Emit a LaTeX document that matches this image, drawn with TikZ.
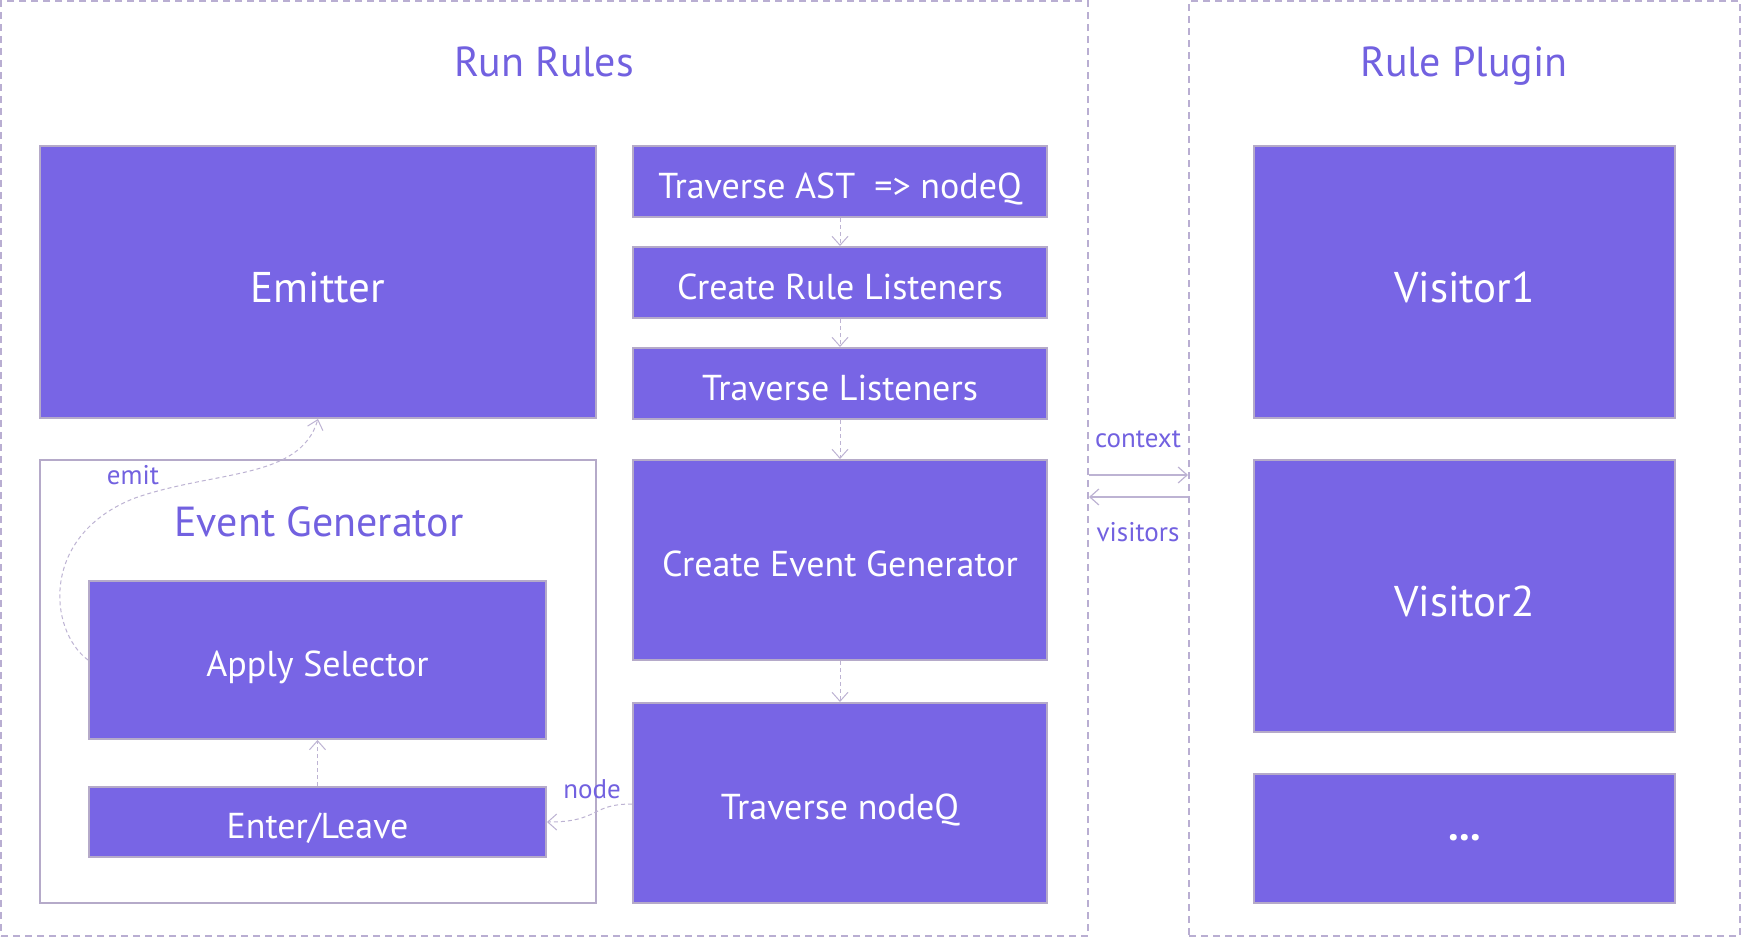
\documentclass[tikz,border=0pt]{standalone}
\usepackage{fontspec}
\setmainfont{PT Sans}
\usetikzlibrary{arrows.meta,calc}
\definecolor{boxfill}{HTML}{7865E5}
\definecolor{boxline}{HTML}{B5AAC9}
\definecolor{dashline}{HTML}{B9AED2}
\definecolor{titlec}{HTML}{7261E0}
\definecolor{connc}{HTML}{BDB3D3}
\tikzset{
  box/.style={draw=boxline, line width=2pt, fill=boxfill, text=white, inner sep=0pt, text height=33pt, text depth=0pt, font=\fontsize{36}{42}\selectfont},
  bigbox/.style={box, text height=40pt, font=\fontsize{43}{50}\selectfont},
  group/.style={draw=dashline, line width=2pt, dash pattern=on 7pt off 5pt, inner sep=0pt},
  title/.style={text=titlec, text depth=0pt, font=\fontsize{42}{50}\selectfont},
  lbl/.style={text=titlec, font=\fontsize{27}{32}\selectfont},
  conn/.style={draw=connc, line width=1pt, dash pattern=on 4pt off 3pt, -{Straight Barb[length=9pt,width=16pt,line width=1pt]}},
  solidconn/.style={draw=connc, line width=1.4pt, -{Straight Barb[length=9pt,width=16pt,line width=1.2pt]}},
}
\begin{document}
\begin{tikzpicture}[x=1pt,y=-1pt]
\useasboundingbox (0,0) rectangle (1742,937);
% groups
\node[group, minimum width=1087pt, minimum height=935pt] (runrules) at (544.5,468.5) {};
\node[group, minimum width=551pt, minimum height=935pt] (plugin) at (1464.5,468.5) {};
\node[title] (rrtitle) at (544,62) {Run Rules};
\node[title] (rptitle) at (1464,62) {Rule Plugin};
% left column
\node[bigbox, minimum width=556pt, minimum height=272pt] (emitter) at (318,282) {Emitter};
\node[draw=boxline, line width=2pt, fill=white, minimum width=556pt, minimum height=443pt] (eg) at (318,681.5) {};
\node[title] (egtitle) at (319,522) {Event Generator};
\node[box, minimum width=457pt, minimum height=158pt] (apply) at (317.5,660) {Apply Selector};
\node[box, minimum width=457pt, minimum height=70pt] (enter) at (317.5,822) {Enter/Leave};
% middle column
\node[box, minimum width=414pt, minimum height=71pt] (ast) at (840,181.5) {Traverse AST\ \ => nodeQ};
\node[box, minimum width=414pt, minimum height=71pt] (crl) at (840,282.5) {Create Rule Listeners};
\node[box, minimum width=414pt, minimum height=71pt] (tl) at (840,383.5) {Traverse Listeners};
\node[box, minimum width=414pt, minimum height=200pt] (ceg) at (840,560) {Create Event Generator};
\node[box, minimum width=414pt, minimum height=200pt] (tnq) at (840,803) {Traverse nodeQ};
% right column
\node[bigbox, minimum width=421pt, minimum height=272pt] (v1) at (1464.5,282) {Visitor1};
\node[bigbox, minimum width=421pt, minimum height=272pt] (v2) at (1464.5,596) {Visitor2};
\node[bigbox, text height=4pt, minimum width=421pt, minimum height=129pt] (more) at (1464.5,838.5) {\textbf{...}};
% connectors
\draw[conn] (ast.south) -- (crl.north);
\draw[conn] (crl.south) -- (tl.north);
\draw[conn] (tl.south) -- (ceg.north);
\draw[conn] (ceg.south) -- (tnq.north);
\draw[conn] (enter.north) -- (apply.south);
\draw[conn] (apply.west) .. controls (48,630) and (40,535) .. (135,498) .. controls (215,470) and (300,480) .. (emitter.south);
\draw[conn] (tnq.west |- 0,804) .. controls (590,804) and (600,822) .. (enter.east);
\draw[solidconn] (runrules.east |- 0,475) -- (plugin.west |- 0,475);
\draw[solidconn] (plugin.west |- 0,497) -- (runrules.east |- 0,497);
% labels
\node[lbl] (emitl) at (133,475) {emit};
\node[lbl] (nodel) at (592,789) {node};
\node[lbl] (ctxl) at (1138,439) {context};
\node[lbl] (visl) at (1138,532) {visitors};
\end{tikzpicture}
\end{document}
